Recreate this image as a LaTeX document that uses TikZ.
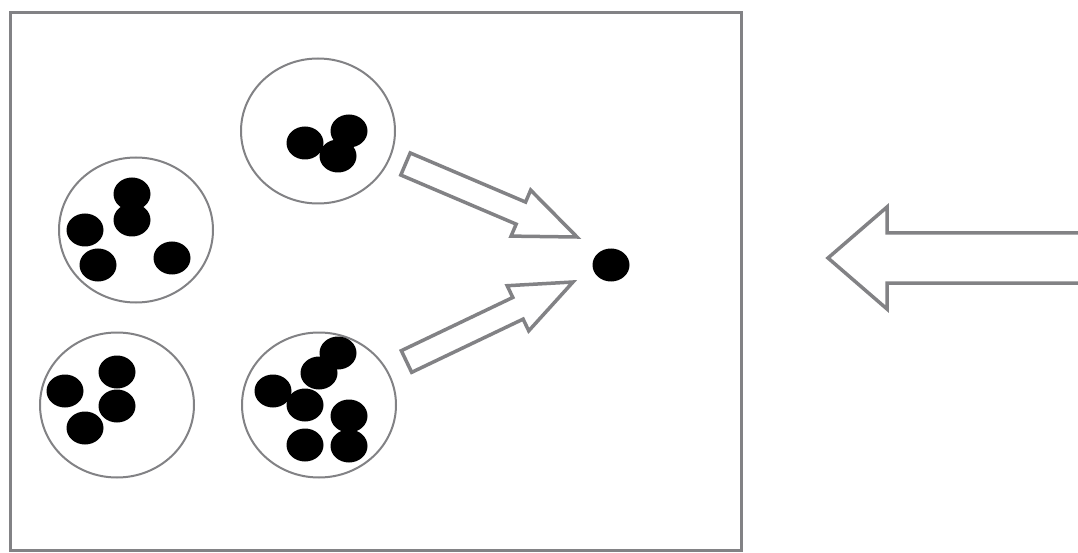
\documentclass[tikz,border=0pt]{standalone}
\usepackage{tikz}
\usetikzlibrary{shapes.geometric, calc}
\definecolor{linegray}{RGB}{130,130,133}
\tikzstyle{cluster} = [ellipse, draw=linegray, line width=2pt, minimum width=154pt, minimum height=145pt, inner sep=0pt]
\tikzstyle{particle} = [ellipse, fill=black, minimum width=37pt, minimum height=33pt, inner sep=0pt]
\tikzstyle{hollow} = [draw=linegray, line width=3.5pt, fill=white, line join=miter]
% #1 tail, #2 tip, #3 half shaft, #4 half head, #5 head length
\newcommand{\hollowarrow}[5]{%
  \coordinate (hb) at ($(#2)!#5!(#1)$);
  \draw[hollow] ($(#1)!#3!90:(#2)$) -- ($(hb)!#3!90:(#2)$) -- ($(hb)!#4!90:(#2)$) -- (#2)
    -- ($(hb)!#4!-90:(#2)$) -- ($(hb)!#3!-90:(#2)$) -- ($(#1)!#3!-90:(#2)$) -- cycle;
}

\begin{document}
\begin{tikzpicture}[x=1pt, y=-1pt]
		\clip (0,0) rectangle (1078,553);
		\fill[white] (0,0) rectangle (1078,553);
		
		\draw[linegray, line width=3pt] (10,13) rectangle (741,550);
		
		\node (ctop) [cluster] at (318,131) {};
		\node (cmid) [cluster] at (136,230) {};
		\node (clow) [cluster] at (117,405) {};
		\node (crgt) [cluster] at (319,405) {};
		
		% particles in the clusters
		\foreach \x/\y [count=\i] in {305/143, 349/131, 338/156}
			\node (pt\i) [particle] at (\x,\y) {};
		\foreach \x/\y [count=\i] in {132/194, 132/220, 85/230, 98/265, 172/258}
			\node (pm\i) [particle] at (\x,\y) {};
		\foreach \x/\y [count=\i] in {65/391, 117/372, 117/406, 85/428}
			\node (pl\i) [particle] at (\x,\y) {};
		\foreach \x/\y [count=\i] in {338/353, 319/373, 273/391, 305/405, 349/416, 305/445, 349/446}
			\node (pr\i) [particle] at (\x,\y) {};
		
		\node (target) [particle] at (611,265) {};
		
		\coordinate (tailtop) at (405.5,164);
		\coordinate (tiptop) at (577,237);
		\coordinate (taillow) at (406.5,361.5);
		\coordinate (tiplow) at (573,282);
		\coordinate (tailout) at (1095,258);
		\coordinate (tipout) at (828,258);
		
		\hollowarrow{tailtop}{tiptop}{12pt}{25pt}{61pt}
		\hollowarrow{taillow}{tiplow}{12pt}{25pt}{61pt}
		\hollowarrow{tailout}{tipout}{25pt}{51pt}{59pt}
		
\end{tikzpicture}
\end{document}
